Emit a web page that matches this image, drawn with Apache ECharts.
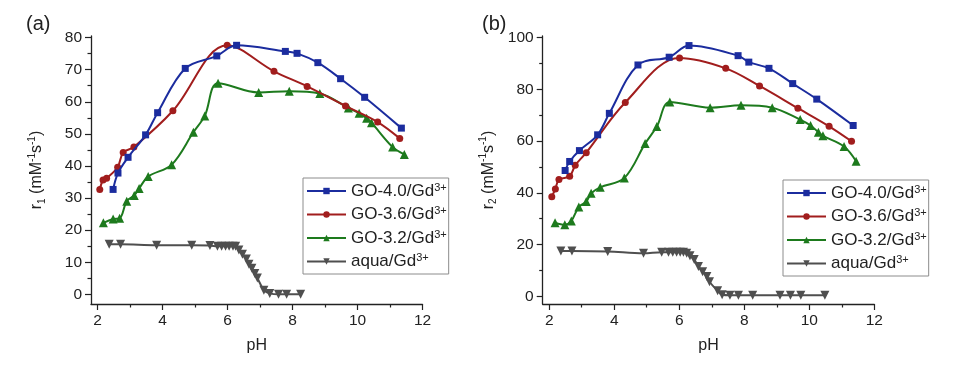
<!DOCTYPE html>
<html><head><meta charset="utf-8">
<script src="https://cdn.jsdelivr.net/npm/echarts@6/dist/echarts.min.js"></script>
<style>html,body{margin:0;padding:0;background:#fff}#c{width:961px;height:367px}</style>
</head><body><div id="c"></div>
<script>
// ---------- data ----------
const seriesNames = ['GO-4.0/Gd3+', 'GO-3.6/Gd3+', 'GO-3.2/Gd3+', 'aqua/Gd3+'];
const xTicks = [2, 4, 6, 8, 10, 12];
const yTicksA = [0, 10, 20, 30, 40, 50, 60, 70, 80];
const yTicksB = [0, 20, 40, 60, 80, 100];

// panel (a): r1 vs pH
const pH_a_go40 = [2.48, 2.63, 2.94, 3.48, 3.85, 4.70, 5.67, 6.28, 7.78, 8.14, 8.78, 9.48, 10.22, 11.35];
const r1_go40   = [32.7, 37.8, 42.7, 49.7, 56.6, 70.4, 74.3, 77.6, 75.7, 75.1, 72.2, 67.2, 61.4, 51.8];
const pH_a_go36 = [2.07, 2.17, 2.28, 2.62, 2.79, 3.12, 4.32, 5.99, 7.43, 8.45, 9.63, 10.62, 11.30];
const r1_go36   = [32.7, 35.6, 36.2, 39.6, 44.2, 45.9, 57.2, 77.6, 69.5, 64.8, 58.7, 53.7, 48.6];
const pH_a_go32 = [2.18, 2.48, 2.68, 2.90, 3.13, 3.28, 3.56, 4.28, 4.95, 5.30, 5.71, 6.96, 7.90, 8.84, 9.72, 10.05, 10.28, 10.43, 11.08, 11.44];
const r1_go32   = [22.3, 23.5, 23.7, 29.0, 30.8, 33.0, 36.7, 40.4, 50.5, 55.6, 65.8, 62.9, 63.3, 62.6, 58.1, 56.4, 54.9, 53.5, 45.9, 43.6];
const pH_a_aqua = [2.36, 2.71, 3.82, 4.90, 5.46, 5.69, 5.82, 5.94, 6.05, 6.17, 6.25, 6.35, 6.46, 6.58, 6.66, 6.75, 6.84, 6.92, 7.12, 7.30, 7.57, 7.82, 8.25];
const r1_aqua   = [15.6, 15.6, 15.3, 15.3, 15.2, 15.0, 15.0, 15.0, 15.0, 15.0, 15.0, 13.8, 12.5, 11.0, 9.4, 8.1, 6.5, 5.1, 1.3, 0.3, 0.0, 0.0, 0.0];

// panel (b): r2 vs pH
const pH_b_go40 = [2.49, 2.63, 2.93, 3.49, 3.85, 4.73, 5.69, 6.30, 7.81, 8.14, 8.76, 9.49, 10.23, 11.35];
const r2_go40   = [48.6, 52.1, 56.3, 62.4, 70.7, 89.4, 92.4, 96.9, 93.0, 90.5, 88.1, 82.2, 76.2, 66.0];
const pH_b_go36 = [2.08, 2.19, 2.30, 2.63, 2.80, 3.14, 4.34, 6.01, 7.43, 8.47, 9.65, 10.61, 11.30];
const r2_go36   = [38.5, 41.5, 45.1, 46.4, 50.6, 55.5, 74.9, 92.1, 88.1, 81.3, 72.7, 65.7, 59.9];
const pH_b_go32 = [2.18, 2.48, 2.68, 2.91, 3.14, 3.29, 3.57, 4.31, 4.95, 5.31, 5.71, 6.95, 7.90, 8.86, 9.72, 10.04, 10.28, 10.42, 11.07, 11.44];
const r2_go32   = [28.4, 27.6, 29.1, 34.5, 36.6, 39.8, 42.1, 45.7, 59.0, 65.6, 75.1, 72.9, 73.8, 72.9, 68.3, 66.0, 63.4, 62.0, 57.9, 52.2];
const pH_b_aqua = [2.36, 2.70, 3.80, 4.90, 5.46, 5.67, 5.80, 5.92, 6.03, 6.13, 6.23, 6.33, 6.46, 6.59, 6.72, 6.85, 6.93, 7.18, 7.32, 7.56, 7.82, 8.26, 9.10, 9.42, 9.74, 10.48];
const r2_aqua   = [17.5, 17.5, 17.3, 16.6, 17.0, 17.0, 17.0, 17.0, 17.0, 17.0, 16.6, 15.7, 14.2, 11.5, 9.5, 7.6, 5.6, 2.1, 0.6, 0.4, 0.4, 0.4, 0.4, 0.4, 0.4, 0.4];

// ---------- styling ----------
const colors = ['#1b2c9e', '#a11d1d', '#1d7a1d', '#4f4f4f'];
const symbols = ['rect', 'circle', 'triangle', 'path://M0,0 L10,0 L5,9 Z'];
const symSizes = [7, 7, 9, 9];
const axisColor = '#222';
const FONT = '"Liberation Sans", Arial, sans-serif';

const zip = (xs, ys) => xs.map((x, i) => [x, ys[i]]);
const panelA = [zip(pH_a_go40, r1_go40), zip(pH_a_go36, r1_go36), zip(pH_a_go32, r1_go32), zip(pH_a_aqua, r1_aqua)];
const panelB = [zip(pH_b_go40, r2_go40), zip(pH_b_go36, r2_go36), zip(pH_b_go32, r2_go32), zip(pH_b_aqua, r2_aqua)];

function mkSeries(data, idx) {
  return data.map((d, i) => ({
    type: 'line', name: seriesNames[i], xAxisIndex: idx, yAxisIndex: idx, data: d,
    smooth: 0.35, symbol: symbols[i], symbolSize: symSizes[i], showSymbol: true,
    lineStyle: { width: 2, color: colors[i] }, itemStyle: { color: colors[i] },
    emphasis: { disabled: true }, z: 5 - i
  }));
}

function xAxis(gi) {
  return {
    gridIndex: gi, type: 'value', min: 1.8, max: 12, splitNumber: 5,
    axisLine: { show: true, onZero: false, lineStyle: { color: axisColor, width: 1.3 } },
    axisTick: { show: true, length: 6, customValues: xTicks, lineStyle: { color: axisColor, width: 1.2 } },
    minorTick: { show: true, splitNumber: 2, length: 3.5, lineStyle: { color: axisColor, width: 1.2 } },
    axisLabel: { customValues: xTicks, fontSize: 15.5, color: axisColor, margin: 9, fontFamily: FONT },
    splitLine: { show: false },
    name: 'pH', nameLocation: 'middle', nameGap: 34,
    nameTextStyle: { fontSize: 16, color: axisColor, fontFamily: FONT }
  };
}
const nameRich = {
  i: { fontSize: 16, lineHeight: 20, color: axisColor, fontFamily: FONT },
  sb: { fontSize: 10, lineHeight: 10, verticalAlign: 'bottom', color: axisColor, fontFamily: FONT },
  sp: { fontSize: 10, lineHeight: 10, verticalAlign: 'top', color: axisColor, fontFamily: FONT }
};
function yAxis(gi, min, max, ticks, split, sub) {
  return {
    gridIndex: gi, type: 'value', min: min, max: max, splitNumber: split,
    axisLine: { show: true, lineStyle: { color: axisColor, width: 1.3 } },
    axisTick: { show: true, length: 6, customValues: ticks, lineStyle: { color: axisColor, width: 1.2 } },
    minorTick: { show: true, splitNumber: 2, length: 3.5, lineStyle: { color: axisColor, width: 1.2 } },
    axisLabel: { customValues: ticks, fontSize: 15.5, color: axisColor, margin: 9, fontFamily: FONT },
    splitLine: { show: false },
    name: '{i|r}{sb|' + sub + '}{i| (mM}{sp|-1}{i|s}{sp|-1}{i|)}',
    nameLocation: 'middle', nameRotate: 90, nameGap: 44,
    nameTextStyle: { rich: nameRich }
  };
}
const legRich = {
  m: { fontSize: 17, lineHeight: 18, color: axisColor, fontFamily: FONT },
  s: { fontSize: 11, lineHeight: 11, verticalAlign: 'top', color: axisColor, fontFamily: FONT }
};
function legend(left, top) {
  return {
    data: seriesNames, orient: 'vertical', left: left, top: top,
    padding: [4, 2, 4, 3], itemGap: 6, itemWidth: 39, itemHeight: 8,
    borderColor: '#8c8c8c', borderWidth: 1, backgroundColor: '#fff',
    selectedMode: false,
    formatter: n => '{m|' + n.replace('3+', '') + '}{s|3+}',
    textStyle: { rich: legRich }
  };
}

const chart = echarts.init(document.getElementById('c'), null, { renderer: 'canvas' });
chart.setOption({
  animation: false,
  backgroundColor: '#fff',
  textStyle: { fontFamily: FONT },
  title: [
    { text: '(a)', left: 21, top: 9, textStyle: { fontSize: 20, fontWeight: 'normal', color: axisColor, fontFamily: FONT } },
    { text: '(b)', left: 477, top: 9, textStyle: { fontSize: 20, fontWeight: 'normal', color: axisColor, fontFamily: FONT } }
  ],
  grid: [
    { left: 91, top: 36, width: 331.5, height: 268 },
    { left: 542.7, top: 36, width: 331.6, height: 268 }
  ],
  xAxis: [xAxis(0), xAxis(1)],
  yAxis: [yAxis(0, -3, 80.5, yTicksA, 8, '1'), yAxis(1, -3, 100.6, yTicksB, 5, '2')],
  legend: [legend(303, 178), legend(783, 180)],
  series: mkSeries(panelA, 0).concat(mkSeries(panelB, 1))
});
</script></body></html>
